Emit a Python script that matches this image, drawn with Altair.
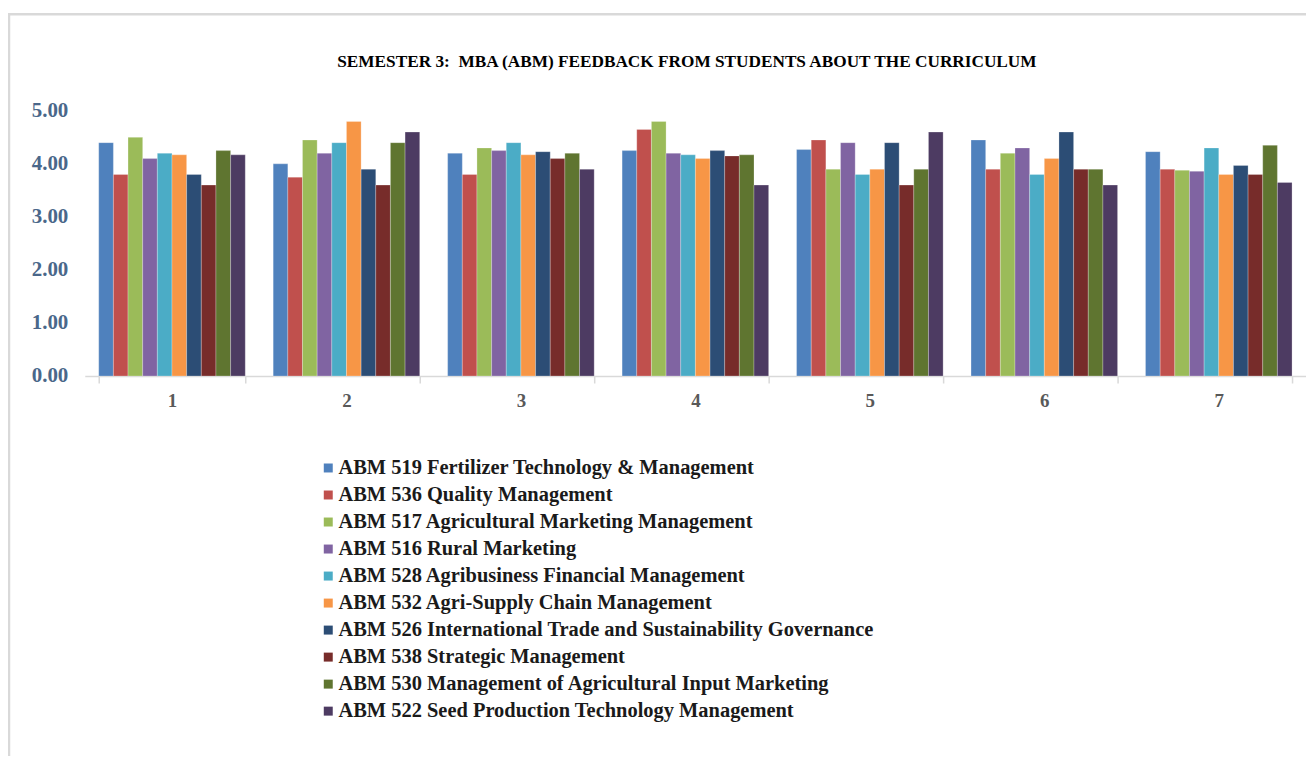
import altair as alt
import pandas as pd

groups = ["1", "2", "3", "4", "5", "6", "7"]
courses = [
    "ABM 519 Fertilizer Technology & Management",
    "ABM 536 Quality Management",
    "ABM 517 Agricultural Marketing Management",
    "ABM 516 Rural Marketing",
    "ABM 528 Agribusiness Financial Management",
    "ABM 532 Agri-Supply Chain Management",
    "ABM 526 International Trade and Sustainability Governance",
    "ABM 538 Strategic Management",
    "ABM 530 Management of Agricultural Input Marketing",
    "ABM 522 Seed Production Technology Management",
]
colors = ["#4F81BD", "#C0504D", "#9BBB59", "#8064A2", "#4BACC6",
          "#F79646", "#2C4D75", "#772C2A", "#5F7530", "#4D3B62"]
title_text = ["SEMESTER 3: \u00a0MBA (ABM) FEEDBACK FROM STUDENTS ABOUT THE CURRICULUM"]

# values per group (one entry per course, in course order)
g1 = [4.40, 3.80, 4.50, 4.10, 4.20, 4.17, 3.80, 3.60, 4.25, 4.17]
g2 = [4.00, 3.75, 4.45, 4.20, 4.40, 4.80, 3.90, 3.60, 4.40, 4.60]
g3 = [4.20, 3.80, 4.30, 4.25, 4.40, 4.17, 4.23, 4.10, 4.20, 3.90]
g4 = [4.25, 4.65, 4.80, 4.20, 4.17, 4.10, 4.25, 4.15, 4.17, 3.60]
g5 = [4.27, 4.45, 3.90, 4.40, 3.80, 3.90, 4.40, 3.60, 3.90, 4.60]
g6 = [4.45, 3.90, 4.20, 4.30, 3.80, 4.10, 4.60, 3.90, 3.90, 3.60]
g7 = [4.23, 3.90, 3.88, 3.86, 4.30, 3.80, 3.97, 3.80, 4.35, 3.65]

rows = []
for g, vals in zip(groups, [g1, g2, g3, g4, g5, g6, g7]):
    for i, (c, v) in enumerate(zip(courses, vals)):
        rows.append({"group": g, "course": c, "order": i, "value": v})
df = pd.DataFrame(rows)

serif = "Liberation Serif"

bars = alt.Chart(df).mark_bar(stroke="white", strokeOpacity=0.5, strokeWidth=0.5).encode(
    x=alt.X("group:N", sort=groups, title=None,
            scale=alt.Scale(paddingInner=0.16, paddingOuter=0.08),
            axis=alt.Axis(labelAngle=0, labelFont=serif, labelFontWeight="bold",
                          labelFontSize=19, labelColor="#595959",
                          domainColor="#D9D9D9", domainWidth=1.5,
                          tickColor="#D9D9D9", tickWidth=1.5, tickSize=7,
                          tickBand="extent", labelPadding=9)),
    xOffset=alt.XOffset("course:N", sort=courses),
    y=alt.Y("value:Q", title=None,
            scale=alt.Scale(domain=[0, 5]),
            axis=alt.Axis(values=[0, 1, 2, 3, 4, 5], format=".2f", grid=False,
                          domain=False, ticks=False, labelFont=serif,
                          labelFontWeight="bold", labelFontSize=21,
                          labelColor="#4A678A", labelPadding=17)),
    color=alt.Color("course:N", sort=courses,
                    scale=alt.Scale(domain=courses, range=colors),
                    legend=alt.Legend(title=None, orient="none",
                                      legendX=234, legendY=348,
                                      symbolType="square", symbolSize=81,
                                      symbolStrokeWidth=0,
                                      labelFont=serif, labelFontWeight="bold",
                                      labelFontSize=20.5, labelColor="#1a1a1a",
                                      labelOffset=0, rowPadding=6.1,
                                      labelLimit=800, padding=0)),
)

frame_df = pd.DataFrame({"k": [0]})
frame = alt.Chart(frame_df).mark_rect(fill="transparent", stroke="#D9D9D9",
                                      strokeWidth=2.5).encode(
    x=alt.value(-76), x2=alt.value(1300), y=alt.value(-97), y2=alt.value(700)
)

title = alt.Chart(pd.DataFrame({"t": title_text})).mark_text(
    font=serif, fontSize=17.3, fontWeight="bold", color="#000000",
    align="center", baseline="middle"
).encode(text="t:N", x=alt.value(604), y=alt.value(-49))

chart = alt.layer(frame, bars, title).properties(
    width=1225, height=266,
    autosize=alt.AutoSizeParams(type="none"),
    padding={"left": 77, "top": 102, "right": 0, "bottom": 380},
).configure_view(stroke=None)

chart.save("out.html", embed_options={"renderer": "svg", "actions": False})
